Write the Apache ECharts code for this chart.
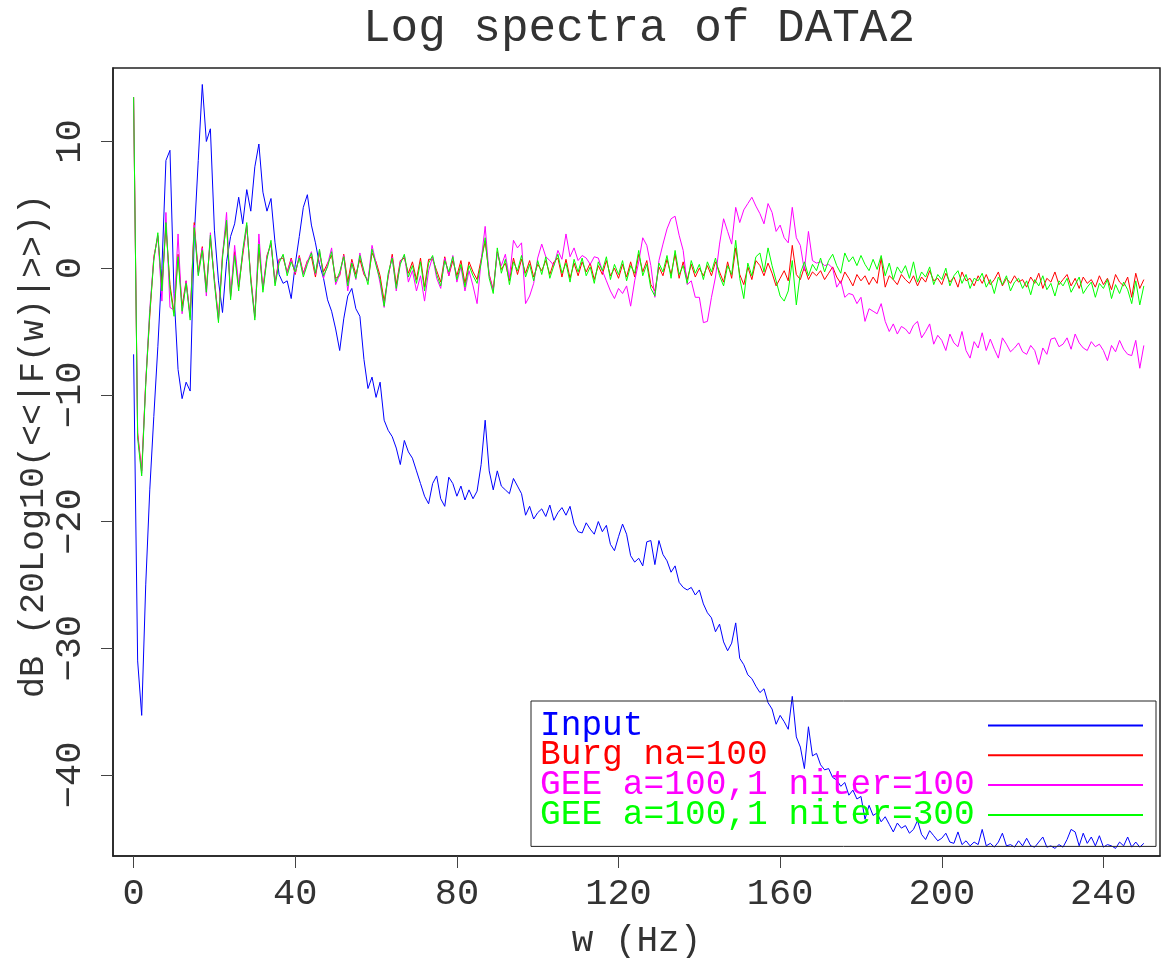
<!DOCTYPE html>
<html>
<head>
<meta charset="utf-8">
<script src="https://cdn.jsdelivr.net/npm/echarts@6/dist/echarts.min.js"></script>
<style>html,body{margin:0;padding:0;background:#fff}#c{width:1161px;height:958px}</style>
</head>
<body>
<div id="c"></div>
<script>
// frequency sampling (Hz)
var F_START = 0, F_STEP = 1;
var xTicks = [0, 40, 80, 120, 160, 200, 240];
var yTicks = [-40, -30, -20, -10, 0, 10];
var seriesNames = ['Input', 'Burg na=100', 'GEE a=100,1 niter=100', 'GEE a=100,1 niter=300'];

var input = [
-6.8,-31,-35.3,-25,-17.5,-11.7,-6.2,0,8.5,9.3,
-2,-8,-10.3,-9,-9.7,2.5,8.5,14.5,10,11,
3,-1,-3.5,0.5,2.5,3.5,5.6,3.5,6.2,4.5,
8,9.8,6,4.5,5.5,2,-0.5,-1.2,-1,-2.4,
0.3,2.5,4.8,5.8,3.4,2,0.3,-0.8,-2.5,-3.4,
-4.8,-6.5,-4,-2.2,-1.6,-3.2,-3.8,-7.2,-9.5,-8.6,
-10.2,-9,-12,-12.8,-13.3,-14.2,-15.5,-13.6,-14.5,-15,
-16,-17,-18,-18.6,-17,-16.4,-18.2,-18.8,-16.5,-17,
-18,-17.2,-18.3,-17.5,-18.2,-17.6,-15.5,-12,-16,-17.5,
-16,-17.2,-17.5,-17.8,-16.6,-17.2,-17.8,-19.5,-18.8,-19.8,
-19.3,-19,-19.6,-18.7,-19.9,-19.3,-18.9,-19.5,-18.8,-20.2,
-20.8,-20.9,-20.1,-20.6,-21,-20,-20.8,-20.3,-21.8,-22.3,
-21.2,-20.2,-21,-22.7,-23.2,-22.9,-23.5,-21.6,-21.5,-23.4,
-21.5,-22.6,-23.1,-24,-23.5,-24.8,-25.2,-25.4,-25.2,-25.8,
-25.4,-26.5,-27.2,-27.6,-28.7,-28.1,-29.5,-30.2,-29.6,-28,
-30.8,-31.3,-32.1,-32.4,-33,-33.5,-33.2,-34.3,-34.8,-36,
-35.3,-35.8,-36.4,-33.8,-37,-37.8,-39.5,-36.2,-38.5,-38.3,
-39.2,-39.6,-39.5,-40.2,-40.4,-40.9,-40.6,-41.6,-41.2,-41.9,
-41.7,-43.5,-42.4,-43.2,-43,-43.7,-43.3,-43.9,-44.5,-43.8,
-44.2,-44,-44.6,-44.3,-43.6,-44.7,-45.1,-44.4,-44.8,-45.2,
-45,-44.6,-45.3,-45.4,-44.5,-45.5,-45.2,-45.6,-45.3,-45.5,
-44.3,-45.6,-45.4,-45.7,-45.3,-44.6,-45.6,-45.5,-45.7,-45.2,
-45.6,-45,-45.6,-45.7,-45.3,-44.9,-45.7,-45.6,-45.8,-45.5,
-45.7,-45.1,-44.3,-44.5,-45.6,-44.6,-45.4,-44.9,-45.6,-44.8,
-45.7,-45.5,-45.6,-45.8,-45.3,-45.6,-44.9,-45.7,-45.3,-45.7,
-45.4
];

var burg = [
13.5,-13.0,-16.0,-9.0,-3.8,0.9,2.5,-1.5,3.3,-1.3,
-3.5,1.1,-3.0,-1.0,-3.8,3.6,-0.3,1.7,-1.6,2.3,
-0.9,-4.0,1.1,3.5,-2.2,1.3,-1.5,1.0,3.3,-0.7,
-3.8,1.6,-1.6,1.0,1.9,-1.1,0.7,0.8,-0.3,0.8,
-0.5,1.0,-0.4,0.6,0.9,-0.7,1.2,-0.3,0.4,1.0,
-0.8,-0.6,1.1,-1.1,0.7,-0.5,0.7,-0.5,-1.0,1.2,
0.5,-0.6,-2.6,-0.7,1.1,-1.3,0.6,0.8,-0.4,0.5,
-0.9,0.8,-1.5,0.7,0.7,-0.2,-1.1,0.9,-0.6,0.6,
-0.6,0.6,-1.2,0.5,-0.3,-0.9,0.7,2.1,-0.5,-1.7,
1.3,-0.1,0.4,-1.0,0.8,-0.5,0.7,-0.4,0.6,-0.7,
0.3,-0.2,0.6,-0.5,0.5,0.8,-0.7,0.7,-0.8,0.4,
-0.6,0.5,-0.3,0.4,-0.9,0.2,-0.5,0.6,-0.6,0.0,
-0.8,0.3,-0.7,0.5,-0.7,1.1,-0.3,0.6,-1.3,-1.8,
0.1,-0.6,0.7,-0.5,1.1,-0.8,0.5,-0.9,0.3,-0.7,
0.0,-0.6,0.2,-0.6,0.5,-0.3,-1.1,0.5,-0.8,1.6,
-0.5,-1.3,0.1,-0.9,0.6,0.2,-0.6,0.4,-0.4,-1.4,
-0.8,-0.2,-1.0,1.8,-0.5,-0.9,0.1,-0.9,-0.3,-0.6,
-0.2,-0.9,-0.4,0.1,-0.7,-1.2,-0.3,-0.8,-1.4,-0.5,
-1.0,-0.6,-1.3,-0.7,-1.2,0.8,-1.5,-0.6,-0.9,-1.3,
-0.5,-0.9,-1.2,-0.6,-1.4,-0.7,-1.1,-0.2,-1.0,-0.8,
-1.3,-0.4,-1.1,-0.7,-1.5,-0.3,-1.0,-0.8,-1.4,-0.6,
-1.2,-0.5,-1.3,-0.9,-0.3,-1.4,-0.8,-1.2,-0.6,-1.1,
-0.9,-1.5,-0.7,-1.2,-0.4,-1.6,-0.8,-1.1,-0.3,-1.3,
-0.9,-0.5,-1.4,-0.8,-1.6,-0.7,-1.2,-0.9,-1.5,-0.6,
-1.3,-0.8,-1.7,-0.5,-1.1,-1.4,-0.7,-2.3,-0.4,-1.6,
-0.9
];

var gee100 = [
13.5,-13.2,-16.2,-9.0,-3.2,0.8,2.6,-2.6,4.4,-3.1,
-3.3,2.7,-3.6,-1.0,-3.9,3.4,-0.5,1.6,-2.2,2.8,
-1.0,-4.1,1.0,4.4,-2.3,1.8,-1.3,1.2,3.4,-0.9,
-3.9,2.7,-1.7,0.9,2.0,-1.2,0.6,1.0,-0.4,0.7,
-0.4,0.9,-0.5,0.5,1.3,-0.5,1.4,-0.8,0.3,1.6,
-1.3,-0.5,1.0,-1.8,0.5,-0.9,1.2,-0.4,-1.0,1.8,
0.4,-1.2,-3.1,-0.6,0.9,-1.8,0.5,1.0,-1.1,-0.2,
-1.8,-0.6,-2.6,-0.2,0.9,-0.8,-1.6,0.8,-0.6,1.0,
-1.1,0.1,-1.8,-0.2,-1.4,-2.8,0.6,3.3,-0.6,-1.8,
1.2,0.2,1.1,-0.8,2.2,1.6,2.0,-2.8,-2.2,-1.2,
0.8,1.9,0.9,0.6,0.2,1.4,0.7,2.7,0.9,1.6,
0.6,1.0,0.8,0.3,0.9,0.8,-0.2,-1.0,-1.8,-2.4,
-1.6,-2.0,-1.4,-3.0,-1.0,0.5,2.4,1.8,0.2,-2.3,
0.6,1.9,3.1,3.9,4.1,2.6,1.4,-1.3,-1.0,-2.3,
-2.3,-4.3,-4.2,-2.3,-0.7,1.9,3.9,2.9,1.9,4.8,
3.6,4.6,5.1,5.6,4.9,4.3,3.5,5.1,4.4,2.9,
3.4,2.4,2.0,4.8,2.4,1.8,-0.2,2.9,0.6,0.4,
0.5,0.2,0.3,0.0,-1.5,-1.0,-2.3,-2.0,-2.1,-2.8,
-2.3,-4.2,-3.2,-3.4,-3.6,-2.8,-4.2,-5.0,-4.4,-5.2,
-4.6,-4.8,-5.2,-4.5,-4.2,-5.5,-5.0,-4.4,-6.0,-5.3,
-5.7,-6.5,-5.2,-5.9,-6.2,-5.0,-6.5,-7.1,-5.8,-6.3,
-5.1,-6.5,-5.6,-6.4,-7.1,-5.5,-6.0,-6.6,-6.3,-5.9,
-6.6,-6.8,-6.1,-6.5,-7.6,-6.3,-6.8,-5.6,-5.5,-6.2,
-6.0,-5.5,-6.4,-5.2,-5.9,-6.3,-6.5,-5.8,-6.2,-6.0,
-6.5,-7.3,-6.1,-6.6,-5.7,-6.4,-6.8,-6.9,-5.7,-7.9,
-6.1
];

var gee300 = [
13.5,-13.4,-16.4,-9.2,-3.5,0.6,2.8,-1.8,3.6,-1.6,
-3.8,0.9,-3.4,-1.2,-4.1,3.2,-0.6,1.4,-1.9,2.6,
-1.2,-4.3,0.8,3.8,-2.5,1.0,-1.8,1.4,3.6,-1.0,
-4.1,1.9,-1.9,0.7,2.2,-1.4,0.4,1.1,-0.6,0.5,
-0.3,0.8,-0.7,0.3,1.2,-0.4,1.5,-0.6,0.1,1.3,
-1.1,-0.3,0.9,-1.4,0.4,-0.8,1.0,-0.2,-1.3,1.5,
0.2,-0.9,-3.0,-0.4,0.8,-1.6,0.3,1.1,-0.7,0.2,
-1.2,0.5,-1.8,0.4,1.0,-0.5,-1.4,0.6,-0.3,0.9,
-0.9,0.3,-1.5,0.2,-0.6,-1.2,0.4,2.4,-0.8,-2.0,
1.6,-0.4,0.7,-1.3,0.5,-0.2,1.0,-0.7,0.3,-1.0,
0.6,-0.5,0.9,-0.8,0.2,1.1,-0.4,0.4,-1.1,0.7,
-0.3,0.8,-0.6,0.1,-1.2,0.5,-0.2,0.9,-0.9,0.3,
-0.5,0.6,-1.0,0.2,-0.4,1.4,-0.6,0.3,-1.6,-2.2,
0.4,-0.3,1.0,-0.8,1.4,-0.5,0.2,-1.2,0.6,-0.4,
0.3,-0.9,0.5,-0.3,0.8,-0.6,-1.4,0.2,-0.5,2.2,
-0.8,-2.4,0.4,-0.6,0.9,1.2,-0.3,1.6,0.2,-1.0,
-2.2,-2.6,-1.8,0.6,-2.9,-0.4,0.5,-0.6,0.3,-0.2,
0.8,-0.3,0.6,1.1,0.2,-0.4,1.2,0.5,0.9,0.2,
1.0,0.3,-0.2,0.7,-0.1,1.0,-0.6,0.4,-0.9,0.1,
-0.4,0.2,-0.8,0.5,-1.1,-0.3,-0.7,0.1,-1.3,-0.5,
-0.9,0.0,-1.4,-0.6,-0.2,-1.2,-0.5,-1.6,-0.8,-1.0,
-0.4,-1.5,-0.9,-2.0,-0.7,-1.3,-0.6,-1.8,-1.1,-0.8,
-1.6,-1.0,-2.1,-0.9,-1.4,-0.6,-1.7,-1.2,-2.2,-1.0,
-1.4,-0.8,-1.9,-1.3,-0.7,-2.0,-1.5,-1.1,-2.3,-1.2,
-1.6,-0.9,-2.4,-1.3,-2.0,-1.1,-1.7,-2.8,-1.0,-2.9,
-1.4
];

var colors = ['#0000ff', '#ff0000', '#ff00ff', '#00ff00'];
var allValues = [input, burg, gee100, gee300];

function pairs(vals) {
  var out = [];
  for (var i = 0; i < vals.length; i++) out.push([F_START + i * F_STEP, vals[i]]);
  return out;
}
function minus(v) { return String(v).replace('-', '\u2212'); }

var FONT = 'Liberation Mono';
var TXT = '#333';

var legendRich = {};
colors.forEach(function (c, i) {
  legendRich['t' + i] = {width: 443, align: 'left', fontFamily: FONT, fontSize: 34.5, color: c};
});

var chart = echarts.init(document.getElementById('c'), null, {renderer: 'canvas'});
chart.setOption({
  animation: false,
  backgroundColor: '#fff',
  title: {
    text: 'Log spectra of DATA2',
    left: 639, top: 6, padding: 0, textAlign: 'center',
    textStyle: {fontFamily: FONT, fontSize: 46, fontWeight: 'normal', color: TXT}
  },
  grid: {left: 113, top: 68, right: 1, bottom: 102, show: true, borderColor: '#222', borderWidth: 1.5,
    containLabel: false, outerBoundsMode: 'none'},
  legend: {
    orient: 'vertical', left: 531, top: 701, align: 'right',
    padding: [7, 12, 14, 9], itemGap: -5.2, itemWidth: 155, itemHeight: 12,
    borderColor: '#222', borderWidth: 1, backgroundColor: 'transparent',
    selectedMode: false,
    itemStyle: {opacity: 0},
    textStyle: {fontFamily: FONT, fontSize: 34.5, rich: legendRich},
    formatter: function (name) { return '{t' + seriesNames.indexOf(name) + '|' + name + '}'; },
    data: seriesNames
  },
  xAxis: {
    type: 'value', min: -5.1, max: 254,
    name: 'w (Hz)', nameLocation: 'middle', nameGap: 67,
    nameTextStyle: {fontFamily: FONT, fontSize: 36, color: TXT},
    axisLine: {show: true, onZero: false, lineStyle: {color: '#222', width: 1.5}},
    axisTick: {show: true, length: 12, inside: false, customValues: xTicks, lineStyle: {color: '#444'}},
    axisLabel: {customValues: xTicks, margin: 20, fontFamily: FONT, fontSize: 37, color: TXT},
    splitLine: {show: false}
  },
  yAxis: {
    type: 'value', min: -46.4, max: 15.8,
    name: 'dB (20Log10(<<|F(w)|>>))', nameLocation: 'middle', nameGap: 62, nameRotate: 90,
    nameMoveOverlap: false,
    nameTextStyle: {fontFamily: FONT, fontSize: 35, color: TXT, padding: [0, 0, 0, 32]},
    axisLine: {show: true, onZero: false, lineStyle: {color: '#222', width: 1.5}},
    axisTick: {show: true, length: 12, inside: false, customValues: yTicks, lineStyle: {color: '#444'}},
    axisLabel: {customValues: yTicks, rotate: 90, margin: 24, fontFamily: FONT, fontSize: 37, color: TXT,
      formatter: function (v) { return minus(v); }},
    splitLine: {show: false}
  },
  series: allValues.map(function (vals, i) {
    return {
      name: seriesNames[i], type: 'line', data: pairs(vals),
      symbol: 'none', showSymbol: false, silent: true,
      lineStyle: {color: colors[i], width: 1}, itemStyle: {color: colors[i]},
      z: 2 + i
    };
  })
});
</script>
</body>
</html>
